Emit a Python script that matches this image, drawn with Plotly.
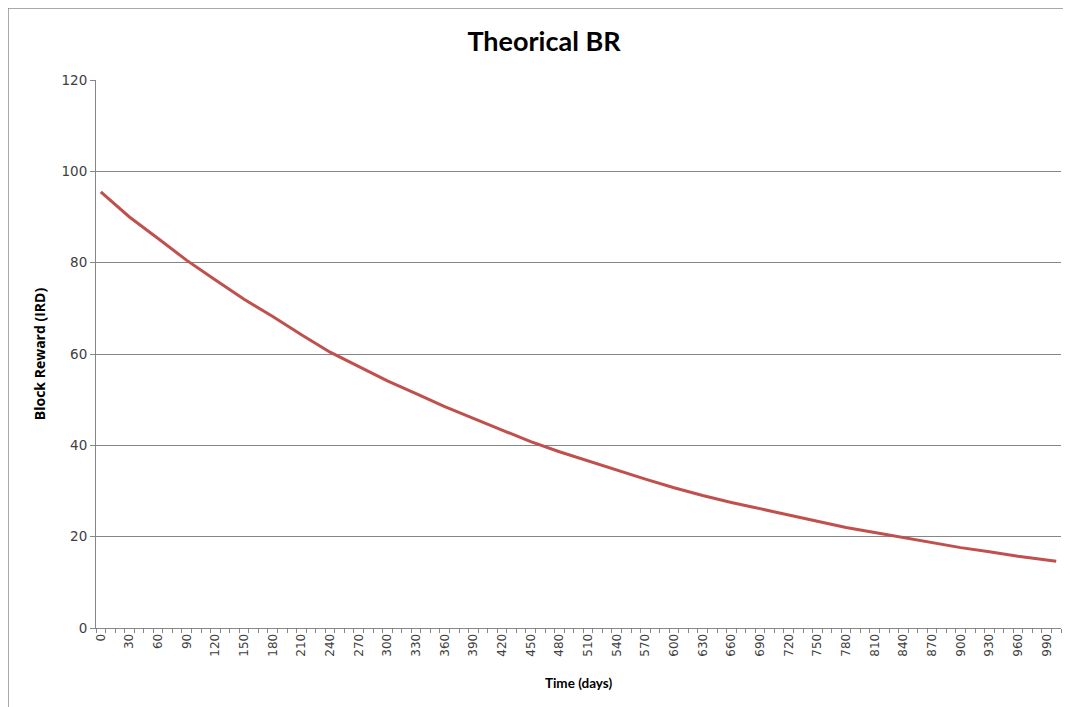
import plotly.graph_objects as go

days = [0, 30, 60, 90, 120, 150, 180, 210, 240, 270, 300, 330, 360, 390, 420,
        450, 480, 510, 540, 570, 600, 630, 660, 690, 720, 750, 780, 810, 840,
        870, 900, 930, 960, 990, 1000]
block_reward = [95.5, 90.0, 85.3, 80.5, 76.2, 72.0, 68.2, 64.2, 60.4, 57.2, 54.1,
                51.3, 48.5, 45.9, 43.3, 40.8, 38.6, 36.6, 34.5, 32.6, 30.7, 29.0,
                27.5, 26.1, 24.7, 23.3, 22.0, 20.9, 19.8, 18.7, 17.6, 16.7, 15.7,
                14.9, 14.6]
x_tick_labels = [str(v) for v in range(0, 991, 30)]
y_ticks = [0, 20, 40, 60, 80, 100, 120]

fig = go.Figure()
fig.add_trace(go.Scatter(x=days, y=block_reward, mode="lines",
                         line=dict(color="#C0504D", width=3),
                         showlegend=False, hoverinfo="x+y"))

# The page body has an 8px margin, so figure coords = page coords - 8.
OFF = 8
W, H = 1071 - OFF, 707 - OFF
# plot area in page pixels: left 96, right 1061, top 80, bottom 628
L, R, T, B = 96 - OFF, 1061 - OFF, 80 - OFF, 628 - OFF
pw, ph = R - L, B - T


def px_x(p):
    return (p - OFF - L) / pw


def px_y(p):
    return (B - (p - OFF)) / ph


fig.update_layout(
    width=W, height=H,
    margin=dict(l=L, r=W - R, t=T, b=H - B),
    paper_bgcolor="white", plot_bgcolor="white",
    title=dict(text="<b>Theorical BR</b>", x=px_x(544), xref="paper", xanchor="center",
               y=1 - (42 - OFF) / H, yanchor="middle",
               font=dict(family="Lato, Open Sans, sans-serif", size=27, color="#000000")),
    xaxis=dict(range=[-5, 1005], tickmode="array",
               tickvals=[int(v) for v in x_tick_labels], ticktext=x_tick_labels,
               tickangle=-90, ticks="", showgrid=False, zeroline=False,
               showline=True, linecolor="#868686", linewidth=1,
               tickfont=dict(family="DejaVu Sans, Verdana, sans-serif", size=12, color="#404040"),
               minor=dict(tick0=5, dtick=10, ticks="outside", ticklen=4,
                          tickcolor="#868686", showgrid=False),
               title=dict(text="<b>Time (days)</b>", standoff=22,
                          font=dict(family="Lato, Open Sans, sans-serif", size=13.5, color="#000000"))),
    yaxis=dict(range=[0, 120], tickvals=y_ticks, showgrid=True,
               gridcolor="#868686", gridwidth=1, zeroline=False,
               showline=True, linecolor="#868686", linewidth=1,
               ticks="outside", ticklen=5, tickcolor="#868686",
               tickfont=dict(family="DejaVu Sans, Verdana, sans-serif", size=13.5, color="#404040"),
               title=dict(text="<b>Block Reward (IRD)</b>", standoff=12,
                          font=dict(family="Open Sans, Lato, sans-serif", size=14, color="#000000"))),
    shapes=[
        dict(type="line", xref="paper", yref="paper",
             x0=px_x(8), x1=px_x(1071), y0=px_y(8), y1=px_y(8),
             line=dict(color="#8c8c8c", width=1.5)),
        dict(type="line", xref="paper", yref="paper",
             x0=px_x(8), x1=px_x(8), y0=px_y(8), y1=px_y(707),
             line=dict(color="#8c8c8c", width=1.5)),
    ],
)

fig.write_html("out.html")
